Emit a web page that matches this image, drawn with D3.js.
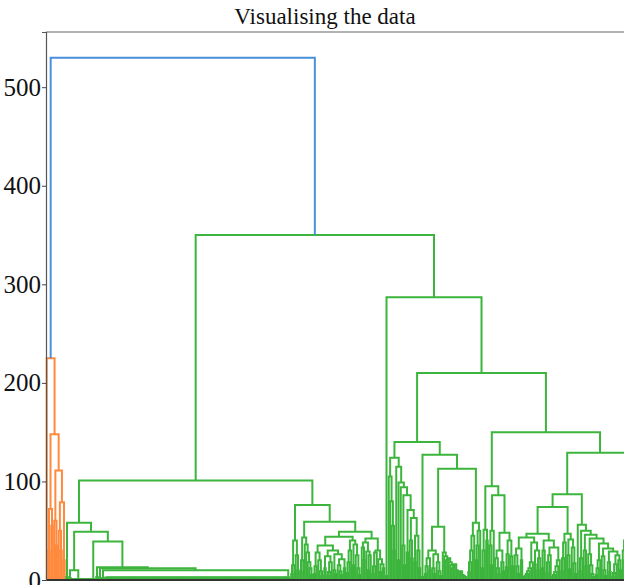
<!DOCTYPE html>
<html><head><meta charset="utf-8">
<script src="https://cdn.jsdelivr.net/npm/d3@7"></script>
<style>body{margin:0;background:#fff;overflow:hidden}svg{display:block}</style>
</head><body>
<script>
// ---------------- DATA ----------------
const chartTitle = "Visualising the data";
const yTicks = [0, 100, 200, 300, 400, 500];
const colors = { above: "#4a8fdb", c1: "#ff8a3d", c2: "#3cb53c" };

// Tree notation: 1 = leaf; n>1 = n duplicate leaves merged at 0;
// [h, left, right] = merge at height h;
// ["L", hTop..hBottom] = chain merged left-to-right; ["R", hTop..hBottom] = chain merged right-to-left;
// ["Lf", n, h] = n leaves merged one after another at height h.
const orangeCluster = [225, 1, [148, [72, [30,1,1], [55,1,1]], [111, [60,1,[35,1,1]], [79, [50,1,[30,1,1]], [20,1,1]]]]];

const greenLowLeft = [58, [3,1,1],
  [49, [10, [2,1,1], ["Lf", 6, 1]],
       [39, ["Lf", 10, 1],
            [13, [3,1,1], [12, [2,1,1], [10, [2,1,1], ["Lf", 124, 2.5]]]]]]];

const greenG = [35, [28, ["L", 14, 6], ["R", 20, 9, 4]],
  [30, [24, [12,1,1], [18, ["L", 8, 4], 1]], [26, [10,1,[6,1,1]], [21, ["R", 15, 9, 5], [12,1,1]]]]];
const greenH1 = [40, ["L", 30, 18, 7], [36, [15,1,1], ["R", 25, 12, 5]]];
const greenH2 = [42, [38, ["R", 33, 20], [29, 1, [25, [10,1,1], 1]]],
  [30, ["L", 28, 14, 6], [21, 1, [16, [8,1,1], [12,1,1]]]]];
const greenLowMid = [76,
  [40, ["L", 15, 6], ["R", 25, 10]],
  [59, [43, ["L", 20, 8], ["R", 36, 28, 18, 12, 5]],
       [49, [44, greenG, greenH1], greenH2]]];

const greenOutlier = [4, 1, 1];

const greenE = [140,
  [124, ["R", 105, 80, 55, 30],
        [115, 1, [99, [20,1,1], [94, 1, [86, [35,1,[15,1,1]], [71, [28,1,1], [63, [40,1,[22,1,1]], [45, [18,1,1], [30, 1, [12,1,1]]]]]]]]]],
  [127, [3,1,1],
        [113, [54, [30, [22, ["L", 14, 6], [10,1,1]], [26, [12,1,[6,1,1]], ["R", 18, 9, 4]]],
                   ["R", 28, 24, 20, 22, 18, 15, 12, 16, 10, 8, 6, 9, 5, 4, 3, 2]],
              [58, ["L", 45, 30, 18, 8], ["L", 50, 35, 20]]]]];

const greenF1 = [95,
  [51, ["L", 30, 12], [40, 1, 1]],
  [86, [50, ["R", 35, 15], 1],
       [48, [30, ["R", 22, 12, 6], [18, 1, [9,1,1]]], [40, ["L", 26, 13], [24, 1, [14,1,1]]]]]];

const greenN47 = [47,
  [43, [32, ["R", 25, 14, 6], [20, 1, 1]], [38, ["L", 18, 12, 9, 6, 4, 3], [30, [16,1,1], ["L", 22, 10]]]],
  [40, ["L", 30, 12], [33, ["L", 25, 18, 7], ["L", 20, 14, 8, 5, 3]]]];
const greenStair = [56, 1,
  [50, ["L", 22, 9], [46, [30, 1, [14,1,1]], [42, ["R", 26, 15, 6, 3], [37, [20, ["L", 12, 5], 1],
    [32, ["R", 24, 10, 4], [29, [18, 1, [8,1,1]], [25, ["L", 16, 7, 3], [20, 1, [10,1,1]]]]]]]]]];
const greenF2 = [129,
  [87, [74, greenN47, [47, ["L", 38, 22, 9], [41, [25, 1, [11,1,1]], ["R", 33, 17, 6]]]], greenStair],
  [62, [40, ["R", 30, 20, 10], [25, 1, [12,1,1]]], [48, ["L", 35, 18, 7], [30, [15,1,1], 1]]]];

const rootHeight = 530, greenTopHeight = 350, greenDHeight = 287, greenD2Height = 210, greenFHeight = 150, greenCHeight = 101;

// ---------------- LAYOUT ----------------
const W = 624, H = 585;
const margin = {left: 46, top: 32, bottom: 580};
let leafCount = 0;
const links = [];
function leaf() { return {x: 5 + 10 * (leafCount++), h: 0}; }
function merge(a, b, h, color) { links.push({a, b, h, color}); return {x: (a.x + b.x) / 2, h}; }
function chain(n, h, color) { let cur = leaf(); for (let k = 1; k < n; k++) cur = merge(cur, leaf(), h, color); return cur; }
function build(node, color) {
  if (typeof node === "number") return node === 1 ? leaf() : chain(node, 0, color);
  const tag = node[0];
  if (tag === "Lf") return chain(node[1], node[2], color);
  if (tag === "L") {
    const hs = node.slice(1); let cur = leaf();
    for (let j = hs.length - 1; j >= 0; j--) cur = merge(cur, leaf(), hs[j], color);
    return cur;
  }
  if (tag === "R") {
    const hs = node.slice(1); const ls = d3.range(hs.length + 1).map(leaf);
    let cur = ls[ls.length - 1];
    for (let j = hs.length - 1; j >= 0; j--) cur = merge(ls[j], cur, hs[j], color);
    return cur;
  }
  const A = build(node[1], color), B = build(node[2], color);
  return merge(A, B, node[0], color);
}
const oNode = build(orangeCluster, colors.c1);
const cNode = merge(build(greenLowLeft, colors.c2), build(greenLowMid, colors.c2), greenCHeight, colors.c2);
const d1Node = build(greenOutlier, colors.c2);
const eNode = build(greenE, colors.c2);
const fNode = merge(build(greenF1, colors.c2), build(greenF2, colors.c2), greenFHeight, colors.c2);
const d2Node = merge(eNode, fNode, greenD2Height, colors.c2);
const dNode = merge(d1Node, d2Node, greenDHeight, colors.c2);
const bNode = merge(cNode, dNode, greenTopHeight, colors.c2);
merge(oNode, bNode, rootHeight, colors.above);

const N = leafCount;
const pitch = 1.5;
const x = d3.scaleLinear().domain([0, 10 * N]).range([margin.left, margin.left + pitch * N]);
const y = d3.scaleLinear().domain([0, 556]).range([margin.bottom, margin.top]);

// ---------------- DRAW ----------------
const serif = "'Liberation Serif', 'Times New Roman', serif";
const svg = d3.select("body").append("svg").attr("width", W).attr("height", H);
svg.append("text").attr("x", 325).attr("y", 24).attr("text-anchor", "middle")
  .style("font-family", serif).style("font-size", "23px")
  .attr("fill", "#111").text(chartTitle);

const g = svg.append("g");
g.selectAll("path.link").data(links).join("path").attr("class", "link")
  .attr("d", d => `M${x(d.a.x)},${y(d.a.h)}V${y(d.h)}H${x(d.b.x)}V${y(d.b.h)}`)
  .attr("fill", "none").attr("stroke", d => d.color).attr("stroke-width", 2);

// spines
const xr = x.range()[1];
svg.append("line").attr("x1", margin.left).attr("x2", Math.max(xr, W)).attr("y1", margin.top).attr("y2", margin.top).attr("stroke", "#666").attr("stroke-width", 1.2);
svg.append("line").attr("x1", margin.left).attr("x2", Math.max(xr, W)).attr("y1", margin.bottom).attr("y2", margin.bottom).attr("stroke", "#333").attr("stroke-width", 2);
const yAxis = svg.append("g").attr("transform", `translate(${margin.left},0)`)
  .call(d3.axisLeft(y).tickValues(yTicks).tickSize(4).tickPadding(1));
yAxis.select(".domain").attr("stroke", "#555").attr("stroke-width", 1.2);
yAxis.selectAll(".tick line").attr("stroke", "#444");
yAxis.selectAll("text").style("font-family", serif).style("font-size", "25px").attr("fill", "#111");
</script>
</body></html>
